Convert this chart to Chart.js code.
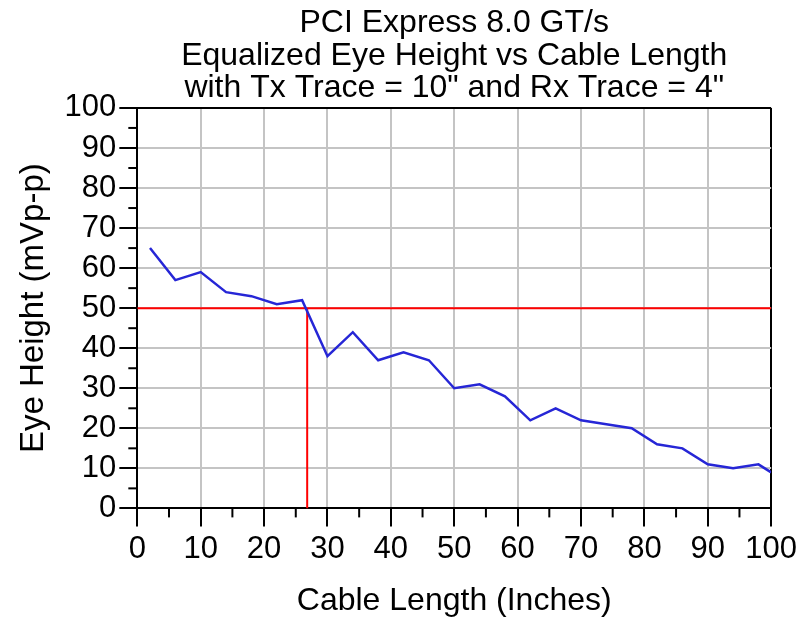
<!DOCTYPE html>
<html>
<head>
<meta charset="utf-8">
<script src="https://cdn.jsdelivr.net/npm/chart.js@4.4.0/dist/chart.umd.min.js"></script>
<style>
  body { margin: 0; background: #fff; }
  canvas { display: block; }
</style>
</head>
<body>
<canvas id="eyeChart" width="801" height="620"></canvas>
<script>
// Equalized eye height readings (cable length in inches -> mVp-p)
const cableLength = [2, 6, 10, 14, 18, 22, 26, 30, 34, 38, 42, 46, 50, 54, 58, 62, 66, 70, 74, 78, 82, 86, 90, 94, 98, 100];
const eyeHeight = [65, 57, 59, 54, 53, 51, 52, 38, 44, 37, 39, 37, 30, 31, 28, 22, 25, 22, 21, 20, 16, 15, 11, 10, 11, 9];

// limit line (50 mV) and the length where it is crossed
const limitY = 50;
const crossX = 26.8;

const titleLines = [
  "PCI Express 8.0 GT/s",
  "Equalized Eye Height vs Cable Length",
  'with Tx Trace = 10" and Rx Trace = 4"',
];

const FONT = "'Liberation Sans', Arial, sans-serif";

// short minor ticks every 5 units, outside the axes
const minorTicks = {
  id: "minorTicks",
  afterDraw(chart) {
    const { ctx, chartArea, scales } = chart;
    ctx.save();
    ctx.strokeStyle = "#000";
    ctx.lineWidth = 2;
    for (let v = 5; v < 100; v += 10) {
      const px = scales.x.getPixelForValue(v);
      ctx.beginPath();
      ctx.moveTo(px, chartArea.bottom);
      ctx.lineTo(px, chartArea.bottom + 9);
      ctx.stroke();
      const py = scales.y.getPixelForValue(v);
      ctx.beginPath();
      ctx.moveTo(chartArea.left, py);
      ctx.lineTo(chartArea.left - 9, py);
      ctx.stroke();
    }
    ctx.restore();
  },
};

const gridColor = (c) => (c.tick && c.tick.value === 100 ? "#000" : "#c4c4c4");

new Chart(document.getElementById("eyeChart"), {
  type: "line",
  data: {
    datasets: [
      {
        data: cableLength.map((x, i) => ({ x: x, y: eyeHeight[i] })),
        borderColor: "#2626d6",
        borderWidth: 2.5,
        pointRadius: 0,
        tension: 0,
      },
      {
        data: [{ x: 0, y: limitY }, { x: 100, y: limitY }],
        borderColor: "#ff0000",
        borderWidth: 2,
        pointRadius: 0,
      },
      {
        data: [{ x: crossX, y: 0 }, { x: crossX, y: limitY }],
        borderColor: "#ff0000",
        borderWidth: 2,
        pointRadius: 0,
      },
    ],
  },
  options: {
    responsive: false,
    animation: false,
    layout: { padding: { top: 3, left: 14, right: 0, bottom: 0 } },
    plugins: {
      legend: { display: false },
      tooltip: { enabled: false },
      title: {
        display: true,
        fullSize: false,
        text: titleLines,
        color: "#000",
        font: { family: FONT, size: 32, weight: "normal", lineHeight: 1.02 },
        padding: { top: 4, bottom: 3 },
      },
    },
    scales: {
      x: {
        type: "linear",
        min: 0,
        max: 100,
        ticks: {
          stepSize: 10,
          autoSkip: false,
          color: "#000",
          font: { family: FONT, size: 31 },
          padding: 4,
          maxRotation: 0,
        },
        grid: { color: gridColor, lineWidth: 2, tickColor: "#000", tickLength: 18, tickWidth: 2 },
        border: { color: "#000", width: 2 },
        title: {
          display: true,
          text: "Cable Length (Inches)",
          color: "#000",
          font: { family: FONT, size: 32 },
          padding: { top: 10, bottom: 0 },
        },
      },
      y: {
        min: 0,
        max: 100,
        ticks: {
          stepSize: 10,
          autoSkip: false,
          color: "#000",
          font: { family: FONT, size: 31 },
          padding: 3,
        },
        grid: { color: gridColor, lineWidth: 2, tickColor: "#000", tickLength: 18, tickWidth: 2 },
        border: { color: "#000", width: 2 },
        title: {
          display: true,
          text: "Eye Height (mVp-p)",
          color: "#000",
          font: { family: FONT, size: 33 },
          padding: { top: 0, bottom: 8 },
        },
      },
    },
  },
  plugins: [minorTicks],
});
</script>
</body>
</html>
